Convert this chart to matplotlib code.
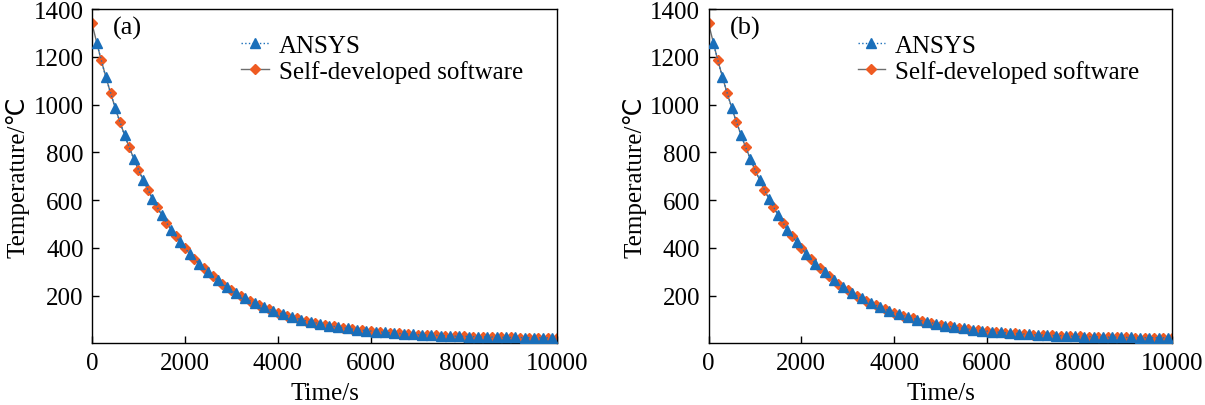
import matplotlib
matplotlib.use("Agg")
import matplotlib.pyplot as plt

plt.rcParams['font.family'] = ['Liberation Serif', 'DejaVu Sans']

# self-developed software: every 200 s from 0 s
time_self = list(range(0, 10001, 200))
temp_self = [1340, 1185, 1048, 927, 821, 727, 644, 570, 506, 449,
             398, 354, 315, 280, 249, 222, 199, 178, 159, 143,
             128, 116, 104, 94, 86, 78, 71, 65, 60, 55,
             51, 47.4, 44.2, 41.3, 38.8, 36.6, 34.7, 32.9, 31.4, 30.1,
             28.9, 27.9, 26.9, 26.1, 25.4, 24.8, 24.2, 23.7, 23.3, 22.9,
             22.5]

# ANSYS: every 200 s from 100 s
time_ansys = list(range(100, 10000, 200))
temp_ansys = [1260, 1114, 986, 872, 772, 684, 606, 537, 476, 423,
              375, 334, 297, 264, 235, 210, 188, 168, 151, 135,
              122, 110, 99, 90, 82, 74, 68, 62, 57, 53,
              49.2, 45.7, 42.7, 40.0, 37.7, 35.6, 33.8, 32.2, 30.7, 29.5,
              28.4, 27.4, 26.5, 25.7, 25.1, 24.5, 23.9, 23.5, 23.1, 22.7]

panel_labels = ['(a)', '(b)']
x_ticks = [0, 2000, 4000, 6000, 8000, 10000]
y_ticks = [200, 400, 600, 800, 1000, 1200, 1400]

blue = '#1a6fba'
orange = '#ef5b22'

fig = plt.figure(figsize=(12.05, 4.06), dpi=100)
axes = [fig.add_axes([0.0763, 0.152, 0.386, 0.823]),
        fig.add_axes([0.588, 0.152, 0.385, 0.823])]

for ax, lab in zip(axes, panel_labels):
    ax.plot(time_ansys, temp_ansys, linestyle=':', color=blue, lw=1,
            marker='^', ms=7, mfc=blue, mec=blue, label='ANSYS', zorder=3)
    ax.plot(time_self, temp_self, linestyle='-', color='#6e6e6e', lw=1,
            marker='D', ms=5.5, mfc=orange, mec=orange,
            label='Self-developed software', zorder=2)
    ax.set_xlim(0, 10000)
    ax.set_ylim(0, 1400)
    ax.set_xticks(x_ticks)
    ax.set_yticks(y_ticks)
    ax.tick_params(direction='in', labelsize=18, length=5, width=1)
    ax.tick_params(axis='x', pad=6)
    ax.tick_params(axis='y', pad=6)
    ax.set_xlabel('Time/s', fontsize=18, labelpad=6)
    ax.set_ylabel('Temperature/℃', fontsize=18, labelpad=3)
    ax.text(0.045, 0.945, lab, transform=ax.transAxes, fontsize=19,
            va='center', ha='left')
    ax.legend(loc='upper left', bbox_to_anchor=(0.30, 0.955), frameon=False,
              fontsize=18, handlelength=1.1, handletextpad=0.4,
              labelspacing=0.12, borderaxespad=0)
    for s in ax.spines.values():
        s.set_linewidth(1)

fig.savefig('out.png', dpi=100)
